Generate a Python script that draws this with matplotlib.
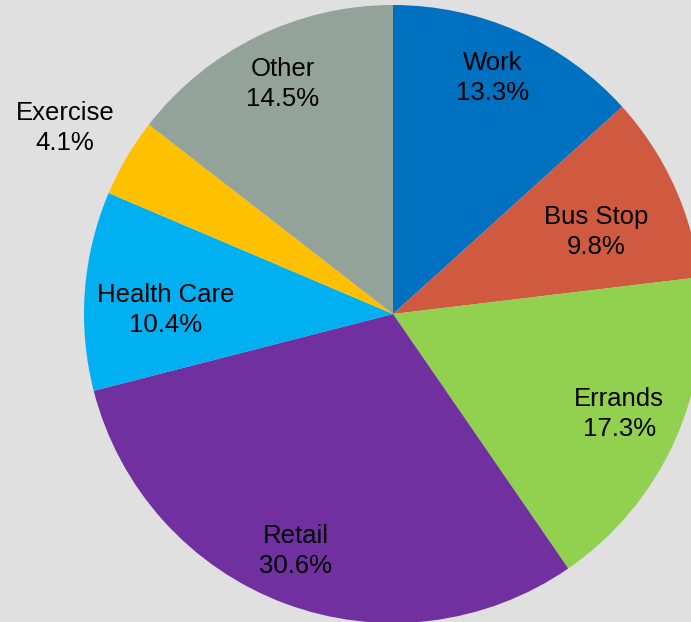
import matplotlib.pyplot as plt
import numpy as np

# slice data, clockwise from 12 o'clock
labels = ['Work', 'Bus Stop', 'Errands', 'Retail', 'Health Care', 'Exercise', 'Other']
shares = [13.3, 9.8, 17.3, 30.6, 10.4, 4.1, 14.5]
colors = ['#0070C0', '#D05A40', '#92D050', '#7030A0', '#00B0F0', '#FFC000', '#94A39A']
# label placement (radius fraction, angle tweak in degrees)
label_dist = [0.83, 0.71, 0.80, 0.83, 0.735, 1.22, 0.825]
label_turn = [1.0, -2.6, 0.5, -1.8, 3.3, 0.9, -0.5]

plt.rcParams['font.family'] = ['Liberation Sans', 'DejaVu Sans']

W, H = 691, 622
cx, cy, R = 393, 314, 309

fig = plt.figure(figsize=(W / 100, H / 100), dpi=100)
fig.patch.set_facecolor('#E0E0E0')
ax = fig.add_axes([0, 0, 1, 1])
ax.set_facecolor('#E0E0E0')

wedges, _ = ax.pie(shares, colors=colors, startangle=90, counterclock=False,
                   radius=1.0, wedgeprops=dict(linewidth=0))

for w, lab, val, d, t in zip(wedges, labels, shares, label_dist, label_turn):
    mid = np.deg2rad((w.theta1 + w.theta2) / 2 + t)
    ax.text(d * np.cos(mid), d * np.sin(mid), f'{lab}\n{val:.1f}%',
            ha='center', va='center', fontsize=18.5, linespacing=1.32)

ax.set_xlim(-cx / R, (W - cx) / R)
ax.set_ylim(-(H - cy) / R, cy / R)
ax.set_aspect('auto')
ax.axis('off')

fig.savefig('out.png', dpi=100, facecolor=fig.get_facecolor())
